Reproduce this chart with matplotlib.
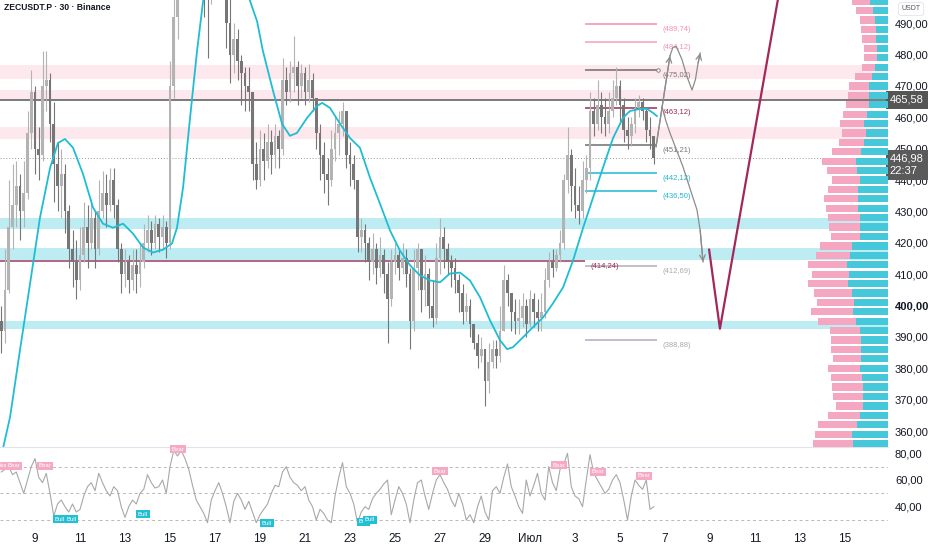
import matplotlib
matplotlib.use('Agg')
import matplotlib.pyplot as plt
from matplotlib.transforms import blended_transform_factory
import numpy as np

plt.rcParams['font.family'] = ['Liberation Sans', 'DejaVu Sans']

title = "ZECUSDT.P · 30 · Binance"

# ---------------- candles (4h resolution, day units: 9 = June 9, 31 = July 1) -------------
t_start = 7.5
t_step = 1 / 6
first_open = 395
closes = [392, 405, 425, 432, 438, 430,
          436, 455, 468, 450, 448, 470,
          472, 458, 445, 438, 442, 430,
          418, 414, 408, 416, 425, 420,
          428, 418, 430, 436, 432, 440,
          432, 418, 410, 414, 408, 413,
          410, 414, 420, 424, 420, 426,
          422, 425, 420, 470, 492, 500,
          510, 518, 525, 520, 528, 522,
          505, 498, 510, 515, 520, 512,
          490, 480, 485, 478, 474, 470,
          468, 445, 440, 450, 446, 452,
          448, 454, 450, 472, 468, 474,
          476, 470, 474, 468, 472, 466,
          455, 448, 442, 440, 450, 455,
          458, 462, 448, 445, 440, 422,
          424, 420, 414, 418, 412, 416,
          410, 402, 414, 416, 412, 415,
          410, 395, 412, 418, 405, 410,
          400, 396, 415, 422, 418, 414,
          412, 408, 404, 398, 400, 394,
          388, 384, 386, 376, 382, 386,
          384, 392, 408, 404, 398, 395,
          396, 400, 394, 402, 398, 396,
          398, 408, 414, 412, 416, 420,
          440, 448, 438, 432, 430, 440,
          444, 462, 458, 464, 460, 458,
          462, 466, 470, 464, 456, 454,
          458, 463, 465, 462, 456, 454,
          446.98]
highs = [400, 418, 440, 445, 446, 442,
         446, 462, 475, 470, 457, 481,
         481, 474, 465, 452, 450, 445,
         432, 424, 421, 425, 433, 432,
         434, 430, 440, 443, 442, 444,
         444, 434, 420, 418, 416, 418,
         418, 420, 426, 429, 427, 429,
         428, 429, 427, 478, 498, 508,
         515, 525, 532, 530, 535, 530,
         522, 512, 518, 525, 528, 522,
         512, 498, 490, 488, 480, 476,
         476, 468, 452, 456, 455, 458,
         456, 458, 456, 479, 476, 478,
         486, 478, 477, 476, 477, 474,
         466, 458, 452, 447, 456, 460,
         462, 465, 462, 452, 448, 440,
         428, 426, 422, 423, 420, 422,
         418, 414, 418, 420, 418, 420,
         418, 412, 418, 420, 418, 416,
         412, 408, 420, 428, 425, 420,
         416, 415, 410, 407, 404, 402,
         394, 391, 390, 386, 388, 389,
         389, 400, 413, 410, 404, 402,
         402, 404, 402, 405, 404, 402,
         404, 412, 417, 418, 418, 424,
         442, 457, 450, 444, 438, 446,
         448, 468, 466, 472, 468, 466,
         468, 472, 476, 472, 466, 460,
         460, 466, 467, 466, 463, 460,
         454]
lows = [385, 388, 404, 418, 425, 421,
        425, 434, 450, 442, 440, 446,
        462, 452, 433, 430, 428, 423,
        412, 406, 402, 405, 414, 412,
        418, 412, 416, 428, 425, 430,
        428, 414, 404, 406, 404, 405,
        404, 406, 412, 417, 416, 418,
        417, 418, 415, 418, 466, 485,
        499, 505, 515, 512, 518, 514,
        492, 479, 496, 505, 508, 500,
        482, 471, 474, 472, 464, 462,
        462, 440, 437, 438, 440, 444,
        442, 444, 444, 448, 464, 465,
        468, 464, 466, 464, 465, 462,
        450, 440, 436, 432, 438, 446,
        448, 454, 444, 438, 437, 417,
        417, 414, 408, 410, 407, 409,
        404, 388, 400, 410, 408, 410,
        406, 386, 392, 405, 398, 400,
        396, 393, 394, 410, 412, 410,
        406, 404, 398, 394, 395, 390,
        386, 380, 382, 368, 372, 380,
        380, 382, 392, 400, 392, 391,
        391, 393, 390, 393, 393, 392,
        392, 396, 406, 409, 411, 414,
        418, 436, 430, 428, 426, 428,
        436, 440, 454, 456, 455, 454,
        455, 460, 464, 458, 452, 450,
        451, 455, 460, 459, 452, 450,
        445]

# ---------------- moving average (day, price) ----------------
ma_days = [7.5, 7.89, 8.33, 8.78, 9.22, 9.67, 10.02, 10.33, 10.69, 11.13, 11.58, 12.02,
           12.47, 12.91, 13.36, 13.80, 14.24, 14.69, 15.09, 15.31, 15.58, 15.89, 16.2,
           16.47, 16.8, 17.2, 17.6, 18.0, 18.3, 18.56, 18.87, 19.13, 19.58, 19.98, 20.33,
           20.64, 21.09, 21.53, 21.76, 22.11, 22.56, 23.0, 23.44, 23.89, 24.33, 24.78,
           25.22, 25.67, 26.11, 26.56, 27.0, 27.44, 27.89, 28.33, 28.78, 29.22, 29.67,
           29.98, 30.24, 30.69, 31.13, 31.58, 32.02, 32.47, 32.91, 33.36, 33.8, 34.24,
           34.69, 35.13, 35.44, 35.89, 36.2, 36.47, 36.64]
ma_vals = [352, 364.4, 385.7, 407, 428, 443.9, 451.8, 453.1, 450.3, 442, 431.2, 426.1,
           424.8, 426.1, 422.9, 418.5, 416.9, 417.8, 419.8, 424.8, 437.6, 459.8, 481.1,
           497, 508, 514, 515, 510, 503, 497, 490.6, 481.1, 468.4, 457.9, 454.1,
           455, 459.8, 463.6, 464.6, 463, 457.9, 453.4, 450.3, 440.7, 432.5, 423.9,
           417.5, 412.8, 409.6, 408, 407.4, 410.2, 410.5, 408, 402.6, 395.3, 388.9,
           386.1, 386.7, 389.9, 393.1, 396.2, 400.7, 405.8, 414.3, 424.8, 434.4, 443.9,
           453.4, 459.8, 462, 462.7, 462.7, 461.4, 460.4]

# ---------------- zones ----------------
pink_zones = [(472.3, 476.6), (465.7, 468.6), (453.2, 456.9)]
cyan_zones = [(424.3, 427.9), (414.6, 418.4), (392.6, 395.1)]

last_price = 465.58
current_price = 446.98
countdown = "22:37"
support_line = 414.24

levels = [489.74, 484.12, 475.02, 463.12, 451.21, 442.12, 436.50, 412.69, 388.88]
level_colors = ['#f48fb1', '#f4a0bd', '#6d6d6d', '#9c2a55', '#6d6d6d',
                '#22b8cf', '#22b8cf', '#b0b0b0', '#b9a6c4']
level_text_colors = ['#f48fb1', '#f48fb1', '#777777', '#9c2a55', '#777777',
                     '#22b8cf', '#22b8cf', '#aaaaaa', '#aaaaaa']
level_start, level_end = 33.44, 36.64

# projection paths
up_days, up_prices = [36.6, 37.22], [450.6, 479.6]
wave_days = [37.22, 37.35, 37.5, 37.75, 37.98, 38.2, 38.35, 38.47, 38.56]
wave_prices = [479.6, 482.3, 482.6, 478.5, 472.9, 468.7, 472.0, 477.3, 480.5]
down_days = [36.87, 37.05, 37.22, 37.5, 37.8, 38.1, 38.42, 38.56, 38.69]
down_prices = [463.3, 458.6, 455.0, 449.8, 444.2, 437.5, 430.5, 424.1, 413.9]
v_days, v_prices = [38.96, 39.44, 42.2], [417.8, 392.6, 505]

# ---------------- volume profile ----------------
vp_price = [356, 359, 362, 365, 368, 371, 374, 377, 380, 383, 386, 389, 392, 395, 398,
            401, 404, 407, 410, 413, 416, 419, 422, 425, 428, 431, 434, 437, 440, 443,
            446, 449, 452, 455, 458, 461, 464, 467, 470, 473, 476, 479, 482, 485, 488,
            491, 494, 497]
vp_total = [75, 73, 70, 60, 52, 55, 56, 57, 60, 55, 57, 57, 58, 70, 77,
            71, 74, 81, 76, 80, 72, 68, 57, 59, 60, 62, 64, 60, 56, 61,
            66, 56, 49, 46, 48, 45, 42, 40, 39, 33, 26, 24, 24, 26, 27,
            28, 32, 36]
vp_buy = [35, 36, 31, 28, 25, 25, 25, 26, 28, 27, 27, 27, 28, 32, 35,
          34, 36, 40, 39, 41, 38, 36, 28, 28, 28, 30, 30, 30, 28, 31,
          32, 27, 24, 22, 24, 21, 19, 19, 19, 16, 13, 11, 11, 12, 12,
          13, 15, 18]

# ---------------- RSI ----------------
rsi = [66, 68, 70, 64, 66, 58, 50, 60, 70, 76, 62, 58, 65, 50, 33, 42, 45, 40, 36, 42,
       36, 38, 48, 55, 58, 52, 65, 58, 52, 48, 55, 52, 40, 32, 40, 45, 42, 50, 53, 64,
       58, 54, 55, 60, 50, 70, 82, 78, 82, 76, 68, 56, 45, 40, 35, 28, 45, 52, 58, 50,
       40, 28, 44, 50, 45, 38, 44, 36, 28, 34, 38, 42, 50, 56, 55, 66, 70, 62, 58, 56,
       52, 55, 45, 40, 30, 38, 35, 30, 28, 48, 62, 73, 55, 50, 42, 28, 36, 40, 38, 46,
       50, 53, 57, 60, 34, 45, 55, 50, 42, 28, 45, 58, 60, 48, 38, 50, 60, 64, 58, 53,
       45, 40, 50, 42, 30, 34, 28, 40, 48, 36, 30, 52, 55, 50, 62, 72, 55, 48, 40, 35,
       60, 48, 56, 65, 50, 45, 70, 58, 52, 68, 72, 80, 55, 48, 46, 40, 60, 79, 65, 60,
       55, 50, 53, 60, 64, 58, 45, 30, 48, 60, 56, 53, 60, 38, 40]
bear_days = [7.55, 8.07, 9.44, 15.36, 27.0, 32.29, 34.02, 36.07]
bear_rsi = [70.5, 70.5, 70.5, 83.2, 66.7, 71.2, 66.0, 63.0]
bull_days = [10.07, 10.64, 13.8, 19.31, 23.58, 23.89]
bull_rsi = [30.7, 30.7, 34.5, 27.6, 28.6, 30.4]

# ---------------- x axis ----------------
xtick_pos = [9, 11, 13, 15, 17, 19, 21, 23, 25, 27, 29, 31, 33, 35, 37, 39, 41, 43, 45]
xtick_labels = ['9', '11', '13', '15', '17', '19', '21', '23', '25', '27', '29', 'Июл',
                '3', '5', '7', '9', '11', '13', '15']
price_ticks = [360, 370, 380, 390, 400, 410, 420, 430, 440, 450, 460, 470, 480, 490]
rsi_ticks = [40, 60, 80]
rsi_dashes = [30, 50, 70]

XMIN, XMAX = 7.444, 46.91
YMIN, YMAX = 354.9, 497.4
RMIN, RMAX = 26.3, 84.7

W, H = 932, 550
fig = plt.figure(figsize=(W / 100, H / 100), dpi=100)
fig.patch.set_facecolor('white')

ax = fig.add_axes([0, 103 / H, 888 / W, 447 / H])
ax2 = fig.add_axes([0, 25 / H, 888 / W, 78 / H])
axvp = fig.add_axes([808 / W, 103 / H, 80 / W, 447 / H])

TXT = '#131722'
fmt = lambda v: '{:.2f}'.format(v).replace('.', ',')

# zones
for lo, hi in pink_zones:
    ax.axhspan(lo, hi, color='#fde8ee', zorder=0, lw=0)
for lo, hi in cyan_zones:
    ax.axhspan(lo, hi, color='#bdedf3', zorder=0, lw=0)

ax.axhline(last_price, color='#555555', lw=1.1, zorder=1)
ax.axhline(current_price, color='#9a9a9a', lw=0.7, ls=(0, (1, 2)), zorder=1)
ax.hlines(support_line, XMIN, level_start, color='#9c3a5e', lw=1.1, zorder=1)
ax.text(level_start + 0.23, support_line - 0.6, '(' + fmt(support_line) + ')', fontsize=5.5,
        color='#9c2a55', va='top', ha='left')

for lv, c, tc in zip(levels, level_colors, level_text_colors):
    ax.hlines(lv, level_start, level_end, color=c, lw=1.1, zorder=2)
    ax.text(36.9, lv - 0.6, '(' + fmt(lv) + ')', fontsize=5.5, color=tc, va='top', ha='left')
ax.plot([36.7], [475.02], marker='o', ms=2.5, mfc='white', mec='#777777', mew=0.6, zorder=3)

# candles
n = len(closes)
opens = [first_open] + closes[:-1]
times = t_start + np.arange(n) * t_step
for t, o, h, l, c in zip(times, opens, highs, lows, closes):
    col = '#b3b3b3' if c >= o else '#767676'
    ax.vlines(t, min(l, o, c), max(h, o, c), color=col, lw=0.8, zorder=3)
    ax.bar(t, max(abs(c - o), 0.4), bottom=min(o, c), width=t_step * 0.7, color=col,
           lw=0, zorder=3)

# MA
ax.plot(ma_days, ma_vals, color='#1fbdd3', lw=1.3, zorder=4)

# projections
pc = '#8c8c8c'
ax.plot(up_days, up_prices, color=pc, lw=0.9, zorder=4)
ax.annotate('', xy=(up_days[-1], up_prices[-1]), xytext=(up_days[-2], up_prices[-2]),
            arrowprops=dict(arrowstyle='->', color=pc, lw=0.9, shrinkA=0, shrinkB=0))
ax.plot(wave_days, wave_prices, color=pc, lw=0.9, zorder=4)
ax.annotate('', xy=(wave_days[-1], wave_prices[-1]), xytext=(wave_days[-2], wave_prices[-2]),
            arrowprops=dict(arrowstyle='->', color=pc, lw=0.9, shrinkA=0, shrinkB=0))
ax.plot(down_days, down_prices, color=pc, lw=0.9, zorder=4)
ax.annotate('', xy=(down_days[-1], down_prices[-1]), xytext=(down_days[-2], down_prices[-2]),
            arrowprops=dict(arrowstyle='->', color=pc, lw=0.9, shrinkA=0, shrinkB=0))
ax.plot(v_days, v_prices, color='#a3285a', lw=1.6, zorder=4)

ax.set_xlim(XMIN, XMAX)
ax.set_ylim(YMIN, YMAX)
for s in ax.spines.values():
    s.set_visible(False)
ax.set_xticks([])
ax.yaxis.tick_right()
ax.set_yticks(price_ticks)
ax.set_yticklabels([fmt(v) for v in price_ticks])
ax.tick_params(axis='y', length=0, pad=5, labelsize=8, labelcolor=TXT)
for lab, v in zip(ax.get_yticklabels(), price_ticks):
    if v == 400:
        lab.set_fontweight('bold')

bt = blended_transform_factory(ax.transAxes, ax.transData)
ax.text(1.002, last_price, fmt(last_price), transform=bt, ha='left', va='center',
        fontsize=8, color='white', zorder=10, clip_on=False,
        bbox=dict(boxstyle='square,pad=0.35', fc='#555555', ec='none'))
ax.text(1.002, current_price - 2.2, fmt(current_price) + '\n' + countdown, transform=bt,
        ha='left', va='center', fontsize=8, color='white', zorder=10, clip_on=False,
        linespacing=1.3, bbox=dict(boxstyle='square,pad=0.35', fc='#5a5a5a', ec='none'))

# volume profile
axvp.barh(vp_price, vp_total, height=2.3, color='#f5a6c1', lw=0, zorder=1)
axvp.barh(vp_price, vp_buy, height=2.3, color='#45c8da', lw=0, zorder=2)
axvp.set_xlim(80, 0)
axvp.set_ylim(YMIN, YMAX)
axvp.axis('off')
axvp.patch.set_alpha(0)

# RSI
ax2.plot(times, rsi, color='#a8a8a8', lw=0.8, zorder=3)
for v in rsi_dashes:
    ax2.axhline(v, color='#b8b8b8', lw=0.7, ls=(0, (3, 3)), zorder=1)
for d, r in zip(bear_days, bear_rsi):
    ax2.text(d, r, 'Bear', fontsize=4.3, color='white', ha='center', va='center', zorder=5,
             bbox=dict(boxstyle='square,pad=0.25', fc='#f7a9c4', ec='none'))
for d, r in zip(bull_days, bull_rsi):
    ax2.text(d, r, 'Bull', fontsize=4.3, color='white', ha='center', va='center', zorder=5,
             bbox=dict(boxstyle='square,pad=0.25', fc='#22bfd5', ec='none'))
ax2.set_xlim(XMIN, XMAX)
ax2.set_ylim(RMIN, RMAX)
for k, s in ax2.spines.items():
    s.set_visible(k == 'top')
ax2.spines['top'].set_color('#e0e3eb')
ax2.spines['top'].set_linewidth(0.8)
ax2.yaxis.tick_right()
ax2.set_yticks(rsi_ticks)
ax2.set_yticklabels([fmt(v) for v in rsi_ticks])
ax2.tick_params(axis='y', length=0, pad=5, labelsize=8, labelcolor=TXT)
ax2.set_xticks(xtick_pos)
ax2.set_xticklabels(xtick_labels)
ax2.tick_params(axis='x', length=0, pad=6, labelsize=8.5, labelcolor=TXT)

fig.text(4 / W, 1 - 8 / H, title, fontsize=6.2, fontweight='bold', color=TXT,
         ha='left', va='center')
fig.text(911 / W, 1 - 9 / H, 'USDT', fontsize=5, color='#555555', ha='center', va='center',
         bbox=dict(boxstyle='round,pad=0.45', fc='white', ec='#e0e3eb', lw=0.6))

fig.savefig('out.png', dpi=100, facecolor='white')
